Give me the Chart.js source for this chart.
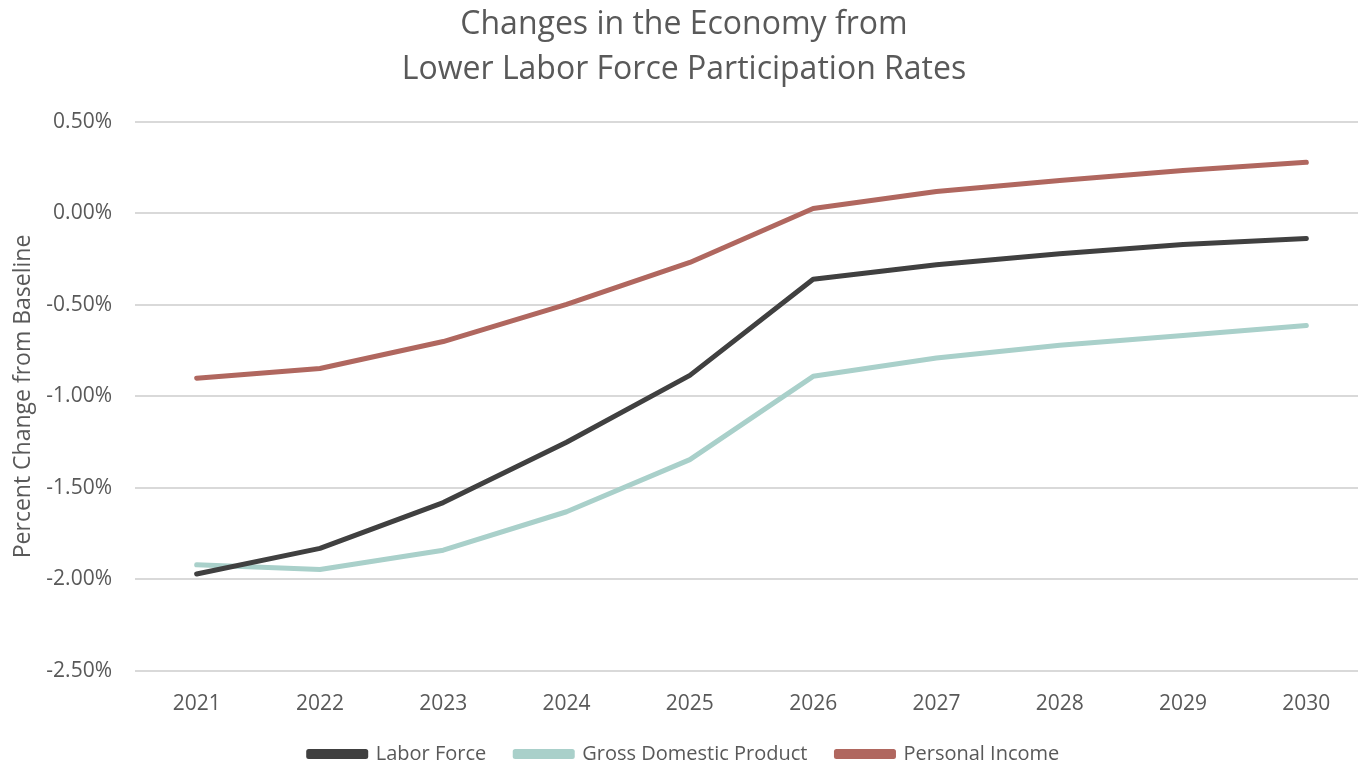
<!DOCTYPE html>
<html>
<head>
<meta charset="utf-8">
<script src="https://cdn.jsdelivr.net/npm/chart.js@4/dist/chart.umd.min.js"></script>
<style>
html,body{margin:0;padding:0;background:#fff;overflow:hidden;}
#wrap{width:1368px;height:766px;position:relative;}
</style>
</head>
<body>
<div id="wrap"><canvas id="c" width="1368" height="766"></canvas></div>
<script>
const years = ['2021','2022','2023','2024','2025','2026','2027','2028','2029','2030'];
const laborForce = [-1.97, -1.83, -1.58, -1.25, -0.885, -0.36, -0.28, -0.22, -0.17, -0.137];
const gdp = [-1.92, -1.945, -1.84, -1.63, -1.345, -0.89, -0.79, -0.72, -0.667, -0.612];
const personalIncome = [-0.90, -0.847, -0.70, -0.497, -0.268, 0.027, 0.12, 0.18, 0.235, 0.279];
const seriesNames = ['Labor Force', 'Gross Domestic Product', 'Personal Income'];
const seriesColors = ['#404040', '#a9d0ca', '#b0675f'];
const titleLines = ['Changes in the Economy from', 'Lower Labor Force Participation Rates'];
const yTitle = 'Percent Change from Baseline';

const FONT = '"Open Sans", "Noto Sans", sans-serif';
const GRAY = '#595959';

function ds(label, data, color){
  return {label, data, borderColor: color, backgroundColor: color, borderWidth: 5,
    pointRadius: 0, pointHoverRadius: 0, tension: 0, borderCapStyle: 'round', borderJoinStyle: 'round', fill: false};
}

new Chart(document.getElementById('c'), {
  type: 'line',
  data: {
    labels: years,
    datasets: [
      ds(seriesNames[0], laborForce, seriesColors[0]),
      ds(seriesNames[1], gdp, seriesColors[1]),
      ds(seriesNames[2], personalIncome, seriesColors[2])
    ]
  },
  options: {
    responsive: false,
    animation: false,
    devicePixelRatio: 1,
    layout: {padding: {left: 0, right: 0, top: 0, bottom: -8}},
    plugins: {
      title: {display: true, text: titleLines, color: GRAY,
        font: {family: FONT, size: 32, weight: 'normal', lineHeight: 1.42},
        padding: {top: 2, bottom: 29}},
      legend: {position: 'bottom', align: 'center',
        labels: {color: GRAY, font: {family: FONT, size: 20}, boxWidth: 57, boxHeight: 5, padding: 29}},
      tooltip: {enabled: false}
    },
    scales: {
      x: {
        offset: true,
        grid: {display: false, drawTicks: false},
        border: {display: false},
        ticks: {color: GRAY, font: {family: FONT, size: 21}, padding: 20, maxRotation: 0},
        afterFit: s => { s.height = 44; }
      },
      y: {
        min: -2.5, max: 0.5,
        grid: {color: '#d9d9d9', lineWidth: 2, drawTicks: false},
        border: {display: false},
        ticks: {stepSize: 0.5, color: GRAY, font: {family: FONT, size: 21}, padding: 23,
          callback: v => (Math.abs(v) < 1e-9 ? 0 : v).toFixed(2) + '%'},
        title: {display: true, text: yTitle, color: GRAY, font: {family: FONT, size: 23}, padding: {top: 10, bottom: 0}},
        afterFit: s => { s.width = 135; }
      }
    }
  }
});
</script>
</body>
</html>
